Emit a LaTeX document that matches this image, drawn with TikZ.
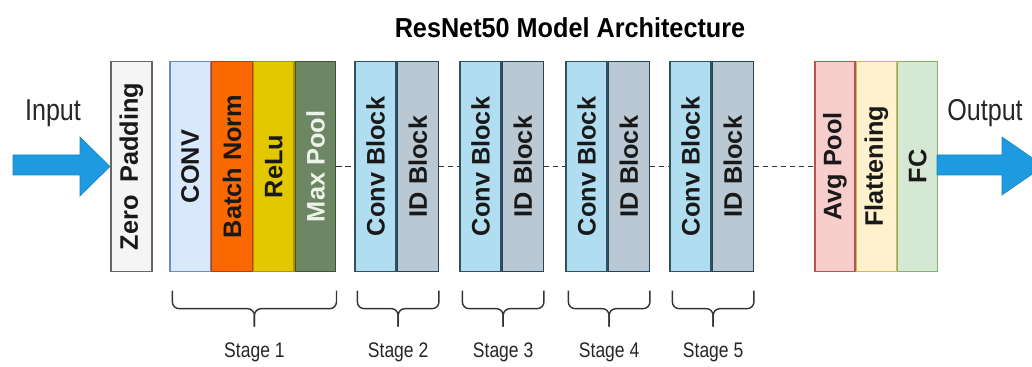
\documentclass[tikz,border=0pt]{standalone}
\usepackage{fontspec}
\setmainfont{Liberation Sans}
\newfontfamily\narrowfont[FakeStretch=0.83]{Liberation Sans}
\newfontfamily\titlefont[FakeStretch=0.92]{Liberation Sans}
\usetikzlibrary{calc}

\definecolor{zerofill}{HTML}{F5F5F5}
\definecolor{zerodraw}{HTML}{666666}
\definecolor{convfill}{HTML}{DAE8FC}
\definecolor{convdraw}{HTML}{6C8EBF}
\definecolor{bnfill}{HTML}{FA6800}
\definecolor{bndraw}{HTML}{C73500}
\definecolor{relufill}{HTML}{E3C800}
\definecolor{reludraw}{HTML}{B09500}
\definecolor{mpfill}{HTML}{6D8764}
\definecolor{mpdraw}{HTML}{3A5431}
\definecolor{mptext}{HTML}{EEF3EA}
\definecolor{cbfill}{HTML}{B1DDF0}
\definecolor{cbdraw}{HTML}{2F4F62}
\definecolor{idfill}{HTML}{BAC8D3}
\definecolor{iddraw}{HTML}{23445D}
\definecolor{avgfill}{HTML}{F8CECC}
\definecolor{avgdraw}{HTML}{B85450}
\definecolor{flatfill}{HTML}{FFF2CC}
\definecolor{flatdraw}{HTML}{D6B656}
\definecolor{fcfill}{HTML}{D5E8D4}
\definecolor{fcdraw}{HTML}{82B366}
\definecolor{arrowblue}{HTML}{1E9BE0}

\begin{document}
\begin{tikzpicture}[
  x=0.025cm, y=-0.025cm,
  layer/.style={draw, line width=0.9pt, minimum width=1.0125cm, minimum height=5.25cm,
    inner sep=0pt, font=\fontsize{18}{20}\selectfont\bfseries, text=black!90},
  block/.style={layer, minimum width=1.025cm},
  headlayer/.style={layer, minimum width=1cm},
  linkdash/.style={draw=black!80, line width=1pt, dash pattern=on 3.6pt off 2.8pt},
  stagebrace/.style={draw=black!80, line width=1pt, rounded corners=0.17cm},
  stagelabel/.style={font=\narrowfont\fontsize{15}{17}\selectfont, text=black!85},
  iolabel/.style={font=\narrowfont\fontsize{21.5}{24}\selectfont, text=black!85},
  bigarrow/.style={fill=arrowblue, draw=arrowblue!85!black, line width=0.4pt}
]
  \useasboundingbox (0,0) rectangle (1032,367);

  \node[font=\titlefont\fontsize{19.5}{22}\selectfont\bfseries] (title) at (570,28) {ResNet50 Model Architecture};

  % input side
  \node[iolabel] (inlabel) at (53,113) {Input};
  \path[bigarrow] (13,155) -- (80,155) -- (80,137) -- (110,166.5) -- (80,196) -- (80,175) -- (13,175) -- cycle;

  \node[layer, fill=zerofill, draw=zerodraw, minimum width=1.025cm] (zp) at (131.5,166.5)
    {\rotatebox{90}{Zero\hspace{0.5em}Padding}};

  % stage 1
  \node[layer, fill=convfill, draw=convdraw] (conv) at (190.25,166.5) {\rotatebox{90}{CONV}};
  \node[layer, fill=bnfill, draw=bndraw, anchor=west] (bn) at (conv.east) {\rotatebox{90}{Batch Norm}};
  \node[layer, fill=relufill, draw=reludraw, anchor=west] (relu) at (bn.east) {\rotatebox{90}{ReLu}};
  \node[layer, fill=mpfill, draw=mpdraw, text=mptext, anchor=west] (mp) at (relu.east) {\rotatebox{90}{Max Pool}};

  % stages 2-5
  \foreach \s/\x in {2/375.5, 3/480.5, 4/586.5, 5/690.5} {
    \node[block, fill=cbfill, draw=cbdraw] (cb\s) at (\x,166.5) {\rotatebox{90}{Conv Block}};
    \node[block, fill=idfill, draw=iddraw, anchor=west] (id\s) at (cb\s.east) {\rotatebox{90}{ID Block}};
  }

  % head
  \node[headlayer, fill=avgfill, draw=avgdraw] (avg) at (835,166.5) {\rotatebox{90}{Avg Pool}};
  \node[headlayer, fill=flatfill, draw=flatdraw, anchor=west] (flat) at (avg.east) {\rotatebox{90}{Flattening}};
  \node[headlayer, fill=fcfill, draw=fcdraw, anchor=west] (fc) at (flat.east) {\rotatebox{90}{FC}};

  % output side
  \node[iolabel] (outlabel) at (985,113) {Output};
  \path[bigarrow] (937,155) -- (1002,155) -- (1002,137) -- (1044,166) -- (1002,195) -- (1002,175) -- (937,175) -- cycle;

  % dashed links
  \draw[linkdash] (mp.east) -- (cb2.west);
  \draw[linkdash] (id2.east) -- (cb3.west);
  \draw[linkdash] (id3.east) -- (cb4.west);
  \draw[linkdash] (id4.east) -- (cb5.west);
  \draw[linkdash] (id5.east) -- (avg.west);

  % braces and stage names
  \foreach \s/\a/\b in {1/conv/mp, 2/cb2/id2, 3/cb3/id3, 4/cb4/id4, 5/cb5/id5} {
    \coordinate (bl) at ($(\a.south west)+(3,18.5)$);
    \coordinate (br) at ($(\b.south east)+(0,18.5)$);
    \coordinate (bm) at ($(bl)!0.5!(br)$);
    \draw[stagebrace] (bl) |- ($(bm)+(0,18)$) -- ++(0,18);
    \draw[stagebrace] (br) |- ($(bm)+(0,18)$) -- ++(0,18);
    \node[stagelabel] (stage\s) at ($(bm)+(0,62)$) {Stage \s};
  }
\end{tikzpicture}
\end{document}
